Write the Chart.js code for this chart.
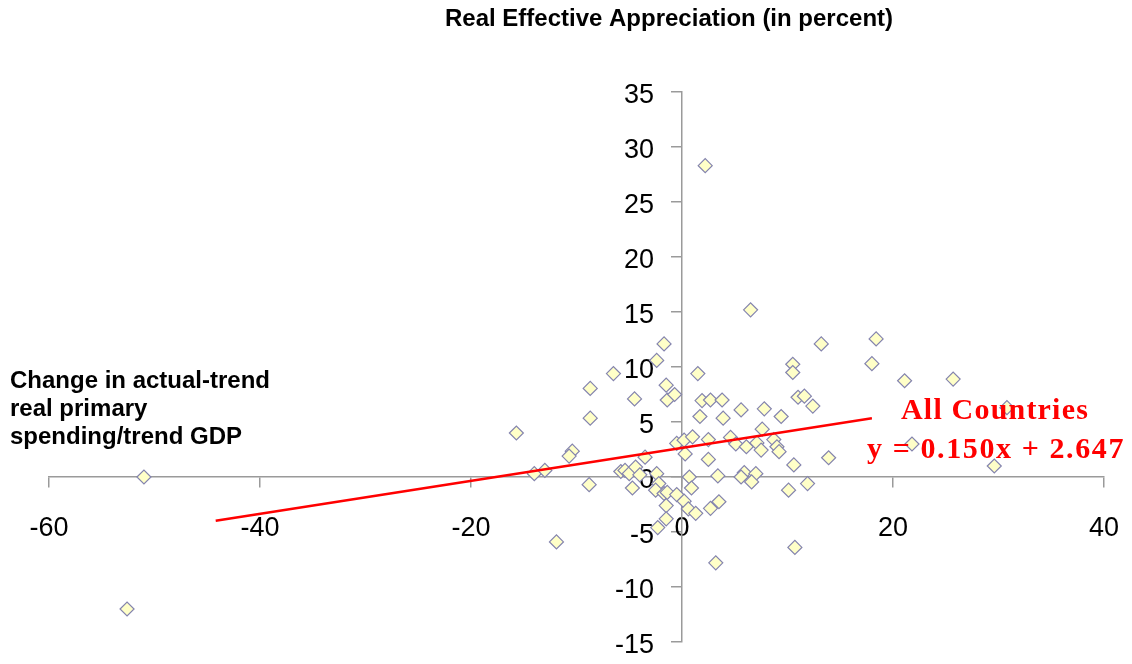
<!DOCTYPE html>
<html>
<head>
<meta charset="utf-8">
<script src="https://cdn.jsdelivr.net/npm/chart.js@4.4.1/dist/chart.umd.min.js"></script>
<style>
  html, body { margin: 0; padding: 0; background: #ffffff; }
  #wrap { width: 1132px; height: 664px; position: relative; }
</style>
</head>
<body>
<div id="wrap"><canvas id="c"></canvas></div>
<script>
// Change in actual-trend real primary spending / trend GDP (x)
const spendingChange = [
  -52.6, -51.0, -15.7, -14.0, -13.0, -11.9, -10.4, -10.7, -8.8, -8.7, -8.7, -6.5, -4.5, -1.7, -2.4, -1.5, -1.4, -0.7, -3.5,
  -5.8, -5.4, -5.0, -4.4, -4.0, -4.7, -2.4, -2.2, -2.5, -1.7, -1.4, -1.5, -1.5, -2.3, -0.5, 0.2, 0.6, 1.3, 0.7, 0.9, 0.3, -0.5, 0.2, 1.0,
  2.2, 6.5, 13.2, 18.4, 18.0, 10.5, 10.5, 1.5, 21.1, 25.7, 1.9, 2.7, 3.8, 11.0, 11.6, 12.4, 30.8, 5.6, 7.8, 1.7,
  3.9, 9.4, 7.6, 2.5, 4.6, 5.1, 6.1, 7.1, 7.5, 8.7, 9.0, 9.2, 21.8, 2.5, 13.9, 10.6, 29.6, 3.4, 5.9, 5.6,
  7.0, 6.6, 11.9, 10.1, 3.5, 2.7, 10.7, 3.2
];
// Real effective appreciation, percent (y)
const realAppreciation = [
  -12.0, 0.0, 4.0, 0.3, 0.6, -5.9, 2.35, 1.9, -0.7, 8.05, 5.35, 9.4, 7.1, 12.1, 10.6, 8.35, 7.0, 7.5, 1.8,
  0.5, 0.6, 0.3, 0.9, 0.2, -1.0, 0.3, -0.6, -1.2, -1.5, -1.4, -2.6, -3.8, -4.6, -1.6, -2.2, -2.9, -3.3, 0.0, -1.0, 2.1, 3.05, 3.35, 3.65,
  28.3, 15.2, 12.1, 12.55, 10.3, 10.25, 9.5, 9.4, 8.75, 8.9, 6.95, 7.0, 7.0, 7.25, 7.35, 6.45, 6.3, 6.1, 6.2, 5.5,
  5.35, 5.5, 4.35, 3.4, 3.6, 3.0, 2.75, 3.1, 2.45, 3.4, 2.75, 2.3, 3.0, 1.6, 1.75, 1.1, 1.0, 0.1, 0.4, 0.0,
  0.3, -0.45, -0.6, -1.2, -2.25, -2.85, -6.4, -7.8
];
// Trend line end points
const trendX = [-44.2, 18.0];
const trendY = [-3.98, 5.35];

const xRange = [-60, 40];
const yRange = [-15, 35];
const xStep = 20;
const yStep = 5;

const titleText = 'Real Effective Appreciation (in percent)';
const xAxisNote = ['Change in actual-trend', 'real primary', 'spending/trend GDP'];
const trendLabel = ['All Countries', 'y = 0.150x + 2.647'];

const points = spendingChange.map((x, i) => ({ x: x, y: realAppreciation[i] }));
const trendPoints = trendX.map((x, i) => ({ x: x, y: trendY[i] }));

function drawSpaced(ctx, text, cx, y, target) {
  ctx.letterSpacing = '0px';
  const w = ctx.measureText(text).width;
  const sp = Math.max(0, (target - w) / text.length);
  ctx.letterSpacing = sp + 'px';
  ctx.textAlign = 'left';
  ctx.fillText(text, cx - target / 2, y);
  ctx.letterSpacing = '0px';
}

const textPlugin = {
  id: 'texts',
  afterDraw(chart) {
    const ctx = chart.ctx;
    ctx.save();
    ctx.fillStyle = '#000000';
    ctx.textBaseline = 'alphabetic';
    ctx.font = 'bold 24px "Liberation Sans", Arial, sans-serif';
    ctx.textAlign = 'center';
    ctx.fillText(titleText, 669, 26);
    ctx.textAlign = 'left';
    xAxisNote.forEach((line, i) => ctx.fillText(line, 10, 388 + i * 28));
    ctx.fillStyle = '#FF0000';
    ctx.font = 'bold 30px "Liberation Serif", "Times New Roman", serif';
    drawSpaced(ctx, trendLabel[0], 995, 419, 188);
    drawSpaced(ctx, trendLabel[1], 996, 458, 258);
    ctx.restore();
  }
};

// Axes placed at the origin: move their labels away from the axis lines
const labelShift = {
  id: 'labelShift',
  afterUpdate(chart) {
    const ys = chart.scales.y;
    if (ys && ys.getLabelItems) {
      ys.getLabelItems(chart.chartArea).forEach(it => {
        it.options.translation[0] -= 28;
        it.options.translation[1] += 4;
      });
    }
    const xs = chart.scales.x;
    if (xs && xs.getLabelItems) {
      xs.getLabelItems(chart.chartArea).forEach(it => {
        it.options.translation[1] += 25;
      });
    }
  }
};

const tickFont = { family: '"Liberation Sans", Arial, sans-serif', size: 27 };

new Chart(document.getElementById('c'), {
  type: 'scatter',
  data: {
    datasets: [
      {
        label: 'Trend',
        type: 'line',
        data: trendPoints,
        borderColor: '#FF0000',
        borderWidth: 2.5,
        pointRadius: 0,
        fill: false,
        order: 0
      },
      {
        label: 'Countries',
        data: points,
        pointStyle: 'rectRot',
        pointRadius: 7,
        pointHoverRadius: 7,
        backgroundColor: '#FFFFC8',
        borderColor: '#8484AE',
        borderWidth: 1.2,
        order: 1
      }
    ]
  },
  options: {
    responsive: true,
    maintainAspectRatio: false,
    animation: false,
    devicePixelRatio: 1,
    layout: { padding: { left: 49, right: 28, top: 92, bottom: 22 } },
    plugins: { legend: { display: false }, title: { display: false }, tooltip: { enabled: false } },
    scales: {
      x: {
        type: 'linear',
        min: xRange[0], max: xRange[1],
        position: { y: 0 },
        ticks: { stepSize: xStep, font: tickFont, color: '#000000', padding: 0, maxRotation: 0 },
        grid: { drawOnChartArea: false, drawTicks: true, tickLength: 10, color: '#9a9a9a', lineWidth: 1.5 },
        border: { color: '#9a9a9a', width: 1.5 }
      },
      y: {
        type: 'linear',
        min: yRange[0], max: yRange[1],
        position: { x: 0 },
        ticks: { stepSize: yStep, font: tickFont, color: '#000000', padding: 0 },
        grid: { drawOnChartArea: false, drawTicks: true, tickLength: 10, color: '#9a9a9a', lineWidth: 1.5 },
        border: { color: '#9a9a9a', width: 1.5 }
      }
    }
  },
  plugins: [textPlugin, labelShift]
});
</script>
</body>
</html>
